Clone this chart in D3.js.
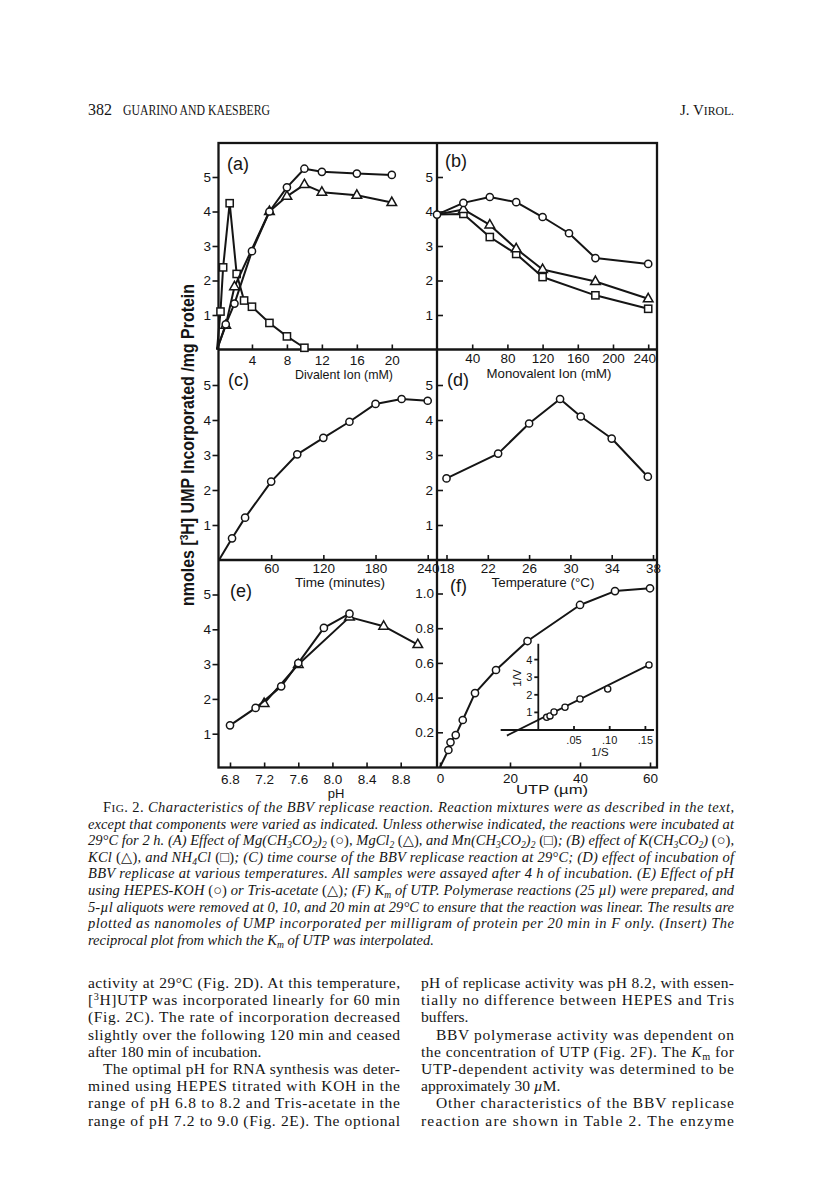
<!DOCTYPE html>
<html><head><meta charset="utf-8">
<script src="https://cdn.jsdelivr.net/npm/d3@7"></script>
<style>body{margin:0;background:#fff}svg{display:block}</style>
</head><body>
<script>
// ---------------- DATA ----------------
// (a) divalent ion (mM) vs nmol UMP / mg protein
const mgAcetate = [[1,0.73],[2,1.33],[4,2.85],[6,4.0],[8,4.7],[10,5.24],[12,5.15],[16,5.1],[20,5.06]];
const mgChloride = [[1,0.7],[2,1.82],[6,4.0],[8,4.44],[10,4.78],[12,4.56],[16,4.47],[20,4.26]];
const mnAcetate = [[0.4,1.1],[0.7,2.38],[1.45,4.24],[2.25,2.19],[3.1,1.42],[4,1.24],[6,0.77],[8,0.38],[10,0.05]];
// (b) monovalent ion (mM)
const kAcetate = [[0,3.91],[30,4.25],[60,4.42],[90,4.27],[120,3.84],[150,3.37],[180,2.65],[240,2.48]];
const kChloride = [[0,3.91],[30,4.06],[60,3.61],[90,2.92],[120,2.32],[180,1.97],[240,1.47]];
const nh4Chloride = [[0,3.91],[30,3.93],[60,3.26],[90,2.77],[120,2.1],[180,1.57],[240,1.18]];
// (c) time course (minutes)
const timeCourse = [[15,0.62],[30,1.21],[60,2.24],[90,3.02],[120,3.49],[150,3.95],[180,4.46],[210,4.6],[240,4.55]];
// (d) temperature (°C)
const temperature = [[18,2.33],[23,3.04],[26,3.9],[29,4.6],[31,4.1],[34,3.47],[37.5,2.38]];
// (e) pH
const phHepes = [[6.8,1.24],[7.1,1.74],[7.4,2.36],[7.6,3.03],[7.9,4.04],[8.2,4.45]];
const phTris = [[7.2,1.87],[7.6,2.99],[8.2,4.35],[8.6,4.09],[9.0,3.56]];
// (f) UTP (µM) vs rate
const utpRate = [[2.4,0.098],[3,0.142],[4.5,0.184],[6.5,0.271],[10,0.426],[16,0.559],[25,0.726],[40,0.934],[50,1.014],[60,1.03]];
// insert: 1/S vs 1/V
const insertPoints = [[0.0117,0.72],[0.0164,0.8],[0.022,1.02],[0.0374,1.29],[0.0584,1.76],[0.0972,2.33],[0.155,3.7]];
const insertLine = [[-0.044,-0.32],[0.155,3.7]];
const origin = [0,0];

// tick labels
const ticksA = [4,8,12,16,20];
const ticksB = [40,80,120,160,200,240];
const ticksC = [60,120,180,240];
const ticksD = [18,22,26,30,34,38];
const ticksE = [6.8,7.2,7.6,8.0,8.4,8.8];
const ticksF = [0,20,40,60];
const ticksY = [1,2,3,4,5];
const ticksYF = [0.2,0.4,0.6,0.8,1.0];
const insertTicksX = [0.05,0.10,0.15];
const insertTicksY = [1,2,3,4];

const panelLabels = ["(a)","(b)","(c)","(d)","(e)","(f)"];
const axisTitles = ["Divalent Ion (mM)","Monovalent Ion (mM)","Time (minutes)","Temperature (\u00B0C)","pH","UTP (\u00B5m)"];

// ---------------- DRAW ----------------
const INK = "#151515";
const SANS = "'Liberation Sans', Arial, sans-serif";
const SERIF = "'Liberation Serif', 'DejaVu Serif', serif";

const svg = d3.select("body").append("svg").attr("width",816).attr("height",1192);
svg.append("rect").attr("width",816).attr("height",1192).attr("fill","#fff");

// frame geometry
const L=218.5, M=437, R=657, T=143, Y1=349.5, Y2=560, B=767.5;

// scales
const xa = d3.scaleLinear().domain([0,25]).range([217,435.5]);
const xb = d3.scaleLinear().domain([0,250]).range([437,657]);
const xc = d3.scaleLinear().domain([0,240]).range([219,427.7]);
const xd = d3.scaleLinear().domain([18,38]).range([446.5,653]);
const xe = d3.scaleLinear().domain([6.8,8.8]).range([230,400.7]);
const xf = d3.scaleLinear().domain([0,60]).range([440,650]);
const y1 = d3.scaleLinear().domain([0,5]).range([349.5,177]);
const y2 = d3.scaleLinear().domain([0,5]).range([560,385]);
const y3 = d3.scaleLinear().domain([0,5]).range([768.5,594.5]);
const yf = d3.scaleLinear().domain([0,1]).range([767,593.5]);
const xi = d3.scaleLinear().domain([0,0.05]).range([538.3,574]);
const yi = d3.scaleLinear().domain([0,1]).range([730,712.4]);

// frame
const frame = svg.append("g").attr("stroke",INK).attr("fill","none").attr("stroke-width",2.3);
frame.append("rect").attr("x",L).attr("y",T).attr("width",R-L).attr("height",B-T);
frame.append("line").attr("x1",M).attr("x2",M).attr("y1",T).attr("y2",B);
frame.append("line").attr("x1",L).attr("x2",R).attr("y1",Y1).attr("y2",Y1);
frame.append("line").attr("x1",L).attr("x2",R).attr("y1",Y2).attr("y2",Y2);

function styleAxis(g, fs){
  g.select(".domain").remove();
  g.attr("font-size",null).attr("font-family",null);
  g.selectAll("line").attr("stroke",INK).attr("stroke-width",1.6);
  g.selectAll("text").attr("fill",INK).attr("font-size",fs).attr("font-family",SANS);
}
function leftAxis(x, scale, vals, size, pad, fmt, fs){
  const g = svg.append("g").attr("transform",`translate(${x},0)`);
  g.call(d3.axisLeft(scale).tickValues(vals).tickSize(size).tickPadding(pad).tickFormat(fmt||d3.format("d")));
  styleAxis(g, fs||13.5);
  return g;
}
function bottomAxis(y, scale, vals, pad, fmt, fs){
  const g = svg.append("g").attr("transform",`translate(0,${y})`);
  g.call(d3.axisBottom(scale).tickValues(vals).tickSize(-5).tickPadding(pad).tickFormat(fmt||d3.format("d")));
  styleAxis(g, fs||13.5);
  return g;
}

// y axes
leftAxis(L, y1, ticksY, 6, 1.5);
leftAxis(M, y1, ticksY, -6, 4);
leftAxis(L, y2, ticksY, 6, 1.5);
leftAxis(M, y2, ticksY, -6, 4);
leftAxis(L, y3, ticksY, 6, 1.5);
leftAxis(M, yf, ticksYF, -6, 3, d3.format(".1f"));

// x axes
bottomAxis(Y1, xa, ticksA, 5.5);
const gb = bottomAxis(Y1, xb, ticksB, 3.5);
gb.selectAll("text").filter(d=>d===240).attr("dx",-4);
bottomAxis(Y2, xc, ticksC, 3);
bottomAxis(Y2, xd, ticksD, 3);
bottomAxis(B, xe, ticksE, 6.5, d3.format(".1f"));
bottomAxis(B, xf, ticksF, 5.5);

// axis titles
const titlePos = [[344,379,98],[549,378,125],[340,586.5,90],[543,586.5,103],[336,798,0],[552,794,72]];
axisTitles.forEach((t,i)=>{
  const p = titlePos[i];
  const el = svg.append("text").attr("x",p[0]).attr("y",p[1]).attr("text-anchor","middle")
    .attr("font-family",SANS).attr("font-size",13).attr("fill",INK).text(t);
  if (p[2]) el.attr("textLength",p[2]).attr("lengthAdjust","spacingAndGlyphs");
});

// panel labels
const labelPos = [[227,170],[445,167],[228,386],[447,386],[230,597],[450,592]];
panelLabels.forEach((t,i)=>{
  svg.append("text").attr("x",labelPos[i][0]).attr("y",labelPos[i][1])
    .attr("font-family",SANS).attr("font-size",18).attr("fill",INK).text(t);
});

// y title
svg.append("text").attr("transform","translate(194,445) rotate(-90)").attr("text-anchor","middle")
  .attr("font-family",SANS).attr("font-weight","bold").attr("font-size",18).attr("fill",INK)
  .attr("textLength",322).attr("lengthAdjust","spacingAndGlyphs")
  .call(t=>{
    t.append("tspan").text("nmoles  [");
    t.append("tspan").attr("dy",-6).attr("font-size",11.5).text("3");
    t.append("tspan").attr("dy",6).text("H] UMP  Incorporated /mg  Protein");
  });

// markers
function marker(g, type, cx, cy){
  if (type==="circle") g.append("circle").attr("cx",cx).attr("cy",cy).attr("r",3.6);
  else if (type==="square") g.append("rect").attr("x",cx-3.6).attr("y",cy-3.6).attr("width",7.2).attr("height",7.2);
  else g.append("path").attr("d",`M${cx},${cy-5.4}L${cx+4.8},${cy+3}L${cx-4.8},${cy+3}Z`);
}
function series(data, x, y, type, opts){
  opts = opts||{};
  const pts = opts.fromOrigin ? [origin].concat(data) : data;
  svg.append("path").datum(pts).attr("fill","none").attr("stroke",INK).attr("stroke-width",opts.sw||2)
    .attr("stroke-linejoin","round")
    .attr("d",d3.line().x(d=>x(d[0])).y(d=>y(d[1])));
  const g = svg.append("g").attr("fill","#fff").attr("stroke",INK).attr("stroke-width",opts.mw||1.5);
  data.forEach(d=>{
    if (opts.skipZero && d[0]===0) return;
    marker(g, type, x(d[0]), y(d[1]));
  });
}

// (a)
series(mnAcetate, xa, y1, "square", {fromOrigin:true});
series(mgChloride, xa, y1, "triangle", {fromOrigin:true});
series(mgAcetate, xa, y1, "circle", {fromOrigin:true});
// (b)
series(nh4Chloride, xb, y1, "square", {skipZero:true});
series(kChloride, xb, y1, "triangle", {skipZero:true});
series(kAcetate, xb, y1, "circle");
// (c)
series(timeCourse, xc, y2, "circle", {fromOrigin:true});
// (d)
series(temperature, xd, y2, "circle");
// (e)
series(phTris, xe, y3, "triangle");
series(phHepes, xe, y3, "circle");
// (f)
series(utpRate, xf, yf, "circle", {fromOrigin:true});

// insert
const ins = svg.append("g").attr("stroke",INK).attr("stroke-width",1.8).attr("fill","none");
ins.append("line").attr("x1",xi(-0.0527)).attr("x2",xi(0.162)).attr("y1",yi(0)).attr("y2",yi(0));
ins.append("line").attr("x1",xi(0)).attr("x2",xi(0)).attr("y1",yi(0)).attr("y2",yi(4.9));
insertTicksX.forEach(v=>ins.append("line").attr("x1",xi(v)).attr("x2",xi(v)).attr("y1",yi(0)).attr("y2",yi(0)-4));
insertTicksY.forEach(v=>ins.append("line").attr("x1",xi(0)).attr("x2",xi(0)-4).attr("y1",yi(v)).attr("y2",yi(v)));
svg.append("path").datum(insertLine).attr("fill","none").attr("stroke",INK).attr("stroke-width",1.8)
  .attr("d",d3.line().x(d=>xi(d[0])).y(d=>yi(d[1])));
const insG = svg.append("g").attr("fill","#fff").attr("stroke",INK).attr("stroke-width",1.3);
insertPoints.forEach(d=>insG.append("circle").attr("cx",xi(d[0])).attr("cy",yi(d[1])).attr("r",3.1));
insertTicksX.forEach(v=>svg.append("text").attr("x",xi(v)).attr("y",744).attr("text-anchor","middle")
  .attr("font-family",SANS).attr("font-size",11).attr("fill",INK).text(d3.format(".2f")(v).replace(/^0/,"")));
insertTicksY.forEach(v=>svg.append("text").attr("x",xi(0)-6).attr("y",yi(v)+4).attr("text-anchor","end")
  .attr("font-family",SANS).attr("font-size",11).attr("fill",INK).text(v));
svg.append("text").attr("x",600).attr("y",756).attr("text-anchor","middle").attr("font-family",SANS)
  .attr("font-size",11.5).attr("fill",INK).text("1/S");
svg.append("text").attr("transform","translate(521,678) rotate(-90)").attr("text-anchor","middle").attr("font-family",SANS)
  .attr("font-size",11.5).attr("fill",INK).text("1/V");

// ---------------- PAGE TEXT ----------------
// markup: _{sub} ^{sup} ~{small caps} !{upright} /{italic}
function rich(textSel, str, fs){
  const re = /([_^~!\/])\{([^}]*)\}/g;
  let last=0, m, shift=0;
  const plain = s => { if(!s) return; const t=textSel.append("tspan").text(s); if(shift){t.attr("dy",-shift); shift=0;} };
  while((m=re.exec(str))){
    plain(str.slice(last,m.index));
    const t = textSel.append("tspan").text(m[2]);
    let dy = 0;
    if (m[1]==="_"){ dy = fs*0.2; t.attr("font-size",fs*0.66); }
    else if (m[1]==="^"){ dy = -fs*0.34; t.attr("font-size",fs*0.66); }
    else if (m[1]==="~"){ t.attr("font-size",fs*0.78).attr("font-style","normal"); }
    else if (m[1]==="!"){ t.attr("font-style","normal"); }
    else if (m[1]==="/"){ t.attr("font-style","italic"); }
    const total = dy - shift;
    if (total) t.attr("dy", total);
    shift = dy;
    last = re.lastIndex;
  }
  plain(str.slice(last));
}
function line(x, y, str, opts){
  const t = svg.append("text").attr("x",x).attr("y",y).attr("font-family",SERIF)
    .attr("font-size",opts.fs).attr("fill",INK);
  if (opts.italic) t.attr("font-style","italic");
  if (opts.width) t.attr("textLength",opts.width).attr("lengthAdjust",opts.adjust||"spacing");
  rich(t, str, opts.fs);
  return t;
}

// header
line(88, 115, "382", {fs:16});
line(123, 115, "GUARINO AND KAESBERG", {fs:14.5, width:147, adjust:"spacingAndGlyphs"});
svg.append("text").attr("x",734).attr("y",115).attr("text-anchor","end").attr("font-family",SERIF)
  .attr("font-size",15).attr("fill",INK).call(t=>rich(t,"J. V~{IROL.}",15));

// caption
const caption = [
  "!{F}~{IG}!{. 2.} Characteristics of the BBV replicase reaction. Reaction mixtures were as described in the text,",
  "except that components were varied as indicated. Unless otherwise indicated, the reactions were incubated at",
  "29\u00B0C for 2 h. (A) Effect of Mg(CH_{3}CO_{2})_{2} !{(\u25CB)}, MgCl_{2} !{(\u25B3)}, and Mn(CH_{3}CO_{2})_{2} !{(\u25A1)}; (B) effect of K(CH_{3}CO_{2}) !{(\u25CB)},",
  "KCl !{(\u25B3)}, and NH_{4}Cl !{(\u25A1)}; (C) time course of the BBV replicase reaction at 29\u00B0C; (D) effect of incubation of",
  "BBV replicase at various temperatures. All samples were assayed after 4 h of incubation. (E) Effect of pH",
  "using HEPES-KOH !{(\u25CB)} or Tris-acetate !{(\u25B3)}; (F) K_{m} of UTP. Polymerase reactions (25 \u00B5l) were prepared, and",
  "5-\u00B5l aliquots were removed at 0, 10, and 20 min at 29\u00B0C to ensure that the reaction was linear. The results are",
  "plotted as nanomoles of UMP incorporated per milligram of protein per 20 min in F only. (Insert) The",
  "reciprocal plot from which the K_{m} of UTP was interpolated."
];
caption.forEach((s,i)=>{
  const x = i===0 ? 103 : 88;
  const last = i===caption.length-1;
  line(x, 812 + i*16.6, s, {fs:14.5, italic:true, width: last ? null : 734-x});
});

// body text
const bodyLeft = [
  ["activity at 29\u00B0C (Fig. 2D). At this temperature,",0,1],
  ["[^{3}H]UTP was incorporated linearly for 60 min",0,1],
  ["(Fig. 2C). The rate of incorporation decreased",0,1],
  ["slightly over the following 120 min and ceased",0,1],
  ["after 180 min of incubation.",0,0],
  ["The optimal pH for RNA synthesis was deter-",1,1],
  ["mined using HEPES titrated with KOH in the",0,1],
  ["range of pH 6.8 to 8.2 and Tris-acetate in the",0,1],
  ["range of pH 7.2 to 9.0 (Fig. 2E). The optional",0,1]
];
const bodyRight = [
  ["pH of replicase activity was pH 8.2, with essen-",0,1],
  ["tially no difference between HEPES and Tris",0,1],
  ["buffers.",0,0],
  ["BBV polymerase activity was dependent on",1,1],
  ["the concentration of UTP (Fig. 2F). The /{K}_{m} for",0,1],
  ["UTP-dependent activity was determined to be",0,1],
  ["approximately 30 /{\u00B5}M.",0,0],
  ["Other characteristics of the BBV replicase",1,1],
  ["reaction are shown in Table 2. The enzyme",0,1]
];
function column(lines, x0, x1){
  lines.forEach((l,i)=>{
    const x = x0 + (l[1] ? 15 : 0);
    line(x, 988 + i*17.2, l[0], {fs:15.5, width: l[2] ? x1-x : null});
  });
}
column(bodyLeft, 88, 400);
column(bodyRight, 421, 734);
</script>
</body></html>
